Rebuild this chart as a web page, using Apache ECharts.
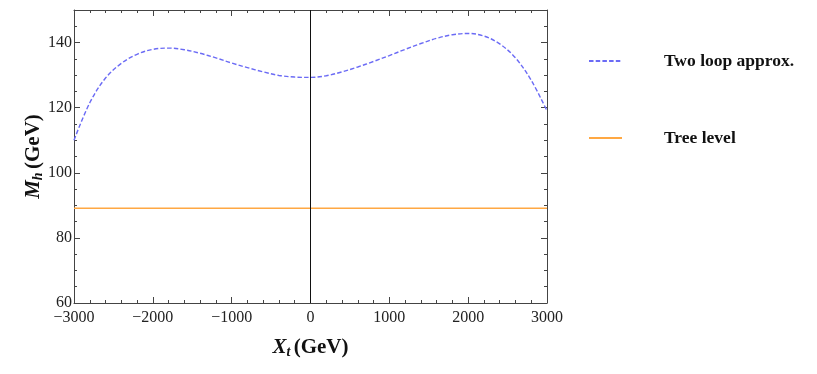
<!DOCTYPE html>
<html>
<head>
<meta charset="utf-8">
<script src="https://cdn.jsdelivr.net/npm/echarts@6/dist/echarts.min.js"></script>
<style>
  html, body { margin: 0; padding: 0; background: #fff; }
  #chart { width: 817px; height: 374px; }
</style>
</head>
<body>
<div id="chart"></div>
<script>
// X_t values (GeV)
const xt = [
  -3000, -2800, -2600, -2400, -2200, -2000, -1800, -1600, -1400, -1200, -1000,
  -800, -600, -400, -200, 0, 200, 400, 600, 800, 1000,
  1200, 1400, 1600, 1800, 2000, 2200, 2400, 2600, 2800, 3000
]
// M_h, two loop approx. (GeV)
const twoLoop = [
  110.0, 121.5, 129.1, 133.6, 136.4, 137.9, 138.3, 137.8, 136.7, 135.3, 133.7,
  132.3, 131.0, 129.9, 129.4, 129.3, 129.8, 131.0, 132.5, 134.2, 136.0,
  137.9, 139.7, 141.3, 142.4, 142.8, 142.0, 139.6, 135.3, 128.4, 119.0
]
// M_h, tree level (GeV)
const treeLevel = xt.map(() => 89.1)

const yTicks = [60, 80, 100, 120, 140]

const serif = '"Liberation Serif", "DejaVu Serif", serif'
const axisColor = '#444'
const blue = '#6b6bf5'
const orange = '#ffa843'

const fmt = v => (v < 0 ? '\u2212' + Math.abs(v) : String(v))

const baseAxis = {
  axisLine: { show: true, onZero: false, lineStyle: { color: axisColor, width: 1 } },
  axisTick: { show: true, inside: true, length: 6, lineStyle: { color: axisColor } },
  minorTick: { show: true, splitNumber: 5, length: 3, lineStyle: { color: axisColor } },
  splitLine: { show: false },
  axisLabel: { color: '#222', fontFamily: serif, fontSize: 16 }
}

const nameRich = {
  i: { fontFamily: serif, fontSize: 21, fontWeight: 'bold', fontStyle: 'italic', color: '#111' },
  s: { fontFamily: serif, fontSize: 14, fontWeight: 'bold', fontStyle: 'italic', color: '#111', padding: [9, 0, 0, 0] },
  b: { fontFamily: serif, fontSize: 21, fontWeight: 'bold', color: '#111' }
}

const chart = echarts.init(document.getElementById('chart'), null, { renderer: 'canvas' })

chart.setOption({
  animation: false,
  backgroundColor: '#fff',
  grid: { left: 74, right: 270, top: 10, bottom: 71 },
  legend: {
    orient: 'vertical',
    left: 588,
    top: 51,
    padding: 0,
    itemWidth: 33,
    itemHeight: 20,
    itemGap: 57,
    selectedMode: false,
    itemStyle: { opacity: 0 },
    textStyle: {
      fontFamily: serif,
      fontSize: 17.5,
      fontWeight: 'bold',
      color: '#111',
      lineHeight: 20,
      padding: [0, 0, 0, 37]
    },
    data: ['Two loop approx.', 'Tree level']
  },
  xAxis: [
    {
      ...baseAxis,
      type: 'value',
      min: -3000,
      max: 3000,
      interval: 1000,
      axisLabel: { ...baseAxis.axisLabel, margin: 7, formatter: fmt, showMaxLabel: true },
      name: '{i|X}{s|t} {b|(GeV)}',
      nameLocation: 'middle',
      nameGap: 33,
      nameMoveOverlap: false,
      nameTextStyle: { rich: nameRich }
    },
    {
      ...baseAxis,
      type: 'value',
      position: 'top',
      min: -3000,
      max: 3000,
      interval: 1000,
      axisLabel: { show: false }
    }
  ],
  yAxis: [
    {
      ...baseAxis,
      type: 'value',
      min: 60,
      max: 150,
      interval: 20,
      minorTick: { ...baseAxis.minorTick, splitNumber: 4 },
      axisLabel: {
        ...baseAxis.axisLabel,
        margin: 2,
        formatter: v => (yTicks.includes(v) ? String(v) : '')
      },
      name: '{i|M}{s|h} {b|(GeV)}',
      nameLocation: 'middle',
      nameGap: 29,
      nameMoveOverlap: false,
      nameRotate: 90,
      nameTextStyle: { rich: nameRich }
    },
    {
      ...baseAxis,
      type: 'value',
      position: 'right',
      min: 60,
      max: 150,
      interval: 20,
      minorTick: { ...baseAxis.minorTick, splitNumber: 4 },
      axisLabel: { show: false }
    }
  ],
  series: [
    {
      name: 'Two loop approx.',
      type: 'line',
      smooth: 0.35,
      symbol: 'none',
      data: xt.map((x, i) => [x, twoLoop[i]]),
      lineStyle: { color: blue, width: 1.4, type: [4.5, 2.2] },
      itemStyle: { color: blue },
      z: 3
    },
    {
      name: 'Tree level',
      type: 'line',
      symbol: 'none',
      data: xt.map((x, i) => [x, treeLevel[i]]),
      lineStyle: { color: orange, width: 1.5 },
      itemStyle: { color: orange },
      markLine: {
        silent: true,
        symbol: 'none',
        label: { show: false },
        lineStyle: { color: '#111', width: 1, type: 'solid' },
        data: [{ xAxis: 0 }]
      },
      z: 2
    }
  ]
})
</script>
</body>
</html>
